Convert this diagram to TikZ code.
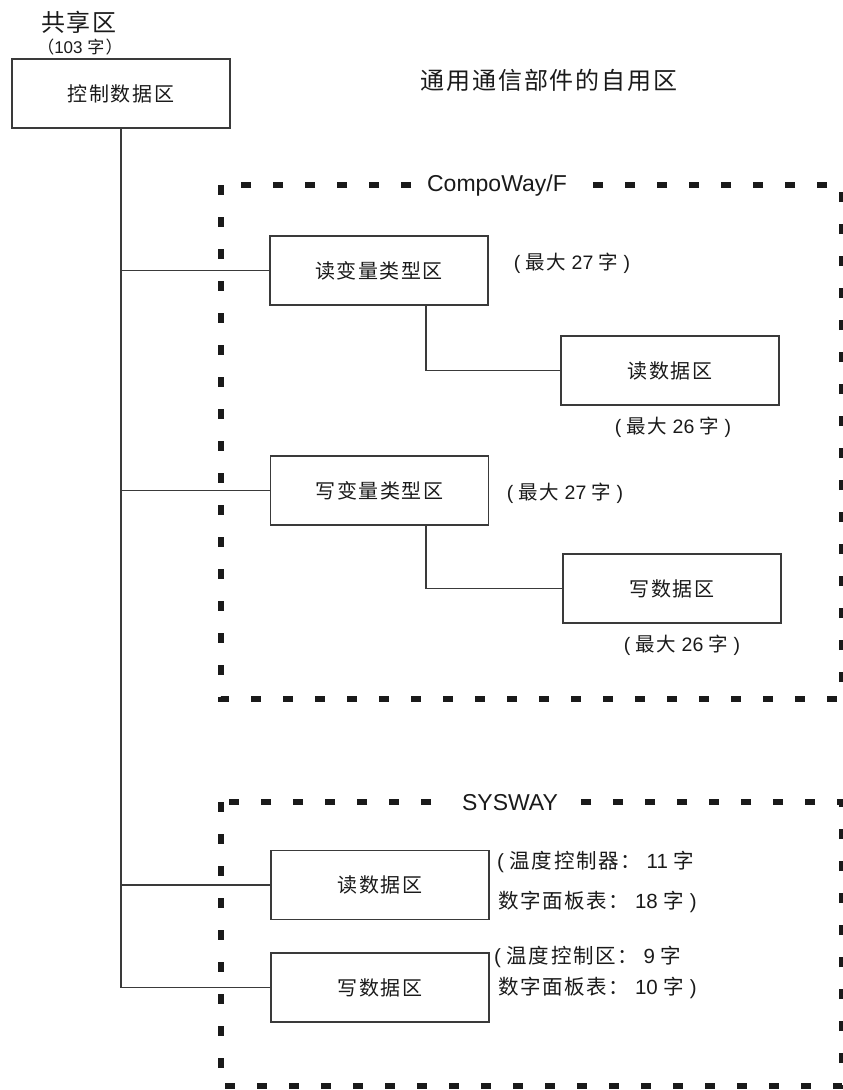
\documentclass[tikz,border=0pt]{standalone}
\usepackage{fontspec}
\setmainfont{Liberation Sans}
\newfontfamily\cjk{Noto Sans CJK SC}[LetterSpace=8]
\definecolor{boxgray}{HTML}{3A3A3A}
\definecolor{txt}{HTML}{1A1A1A}
\begin{document}
\begin{tikzpicture}[x=1pt,y=-1pt,
  box/.style={draw=boxgray,line width=1.3pt,minimum width=218pt,minimum height=69pt,inner sep=0pt,
    font=\cjk\fontsize{20}{24}\selectfont,text=txt},
  frame/.style={draw=txt,line width=5.5pt,dash pattern=on 10pt off 22pt},
  framelabel/.style={fill=white,inner xsep=7pt,inner ysep=3pt,font=\fontsize{23}{27}\selectfont,text=txt},
  conn/.style={draw=boxgray,line width=1.3pt},
  note/.style={font=\fontsize{19.5}{23}\selectfont,text=txt,inner sep=0pt},
  heading/.style={font=\cjk\fontsize{24}{28}\selectfont,text=txt,inner sep=0pt}]
\useasboundingbox (0,0) rectangle (843,1090);

% headings
\node[heading] (shared) at (79,22) {共享区};
\node[note,font=\fontsize{17}{20}\selectfont] (sharedcount) at (80,47) {{\cjk （}103 {\cjk 字）}};
\node[heading] (title) at (549,80) {通用通信部件的自用区};

% frames
\draw[frame] (221,185) rectangle (842,699);
\node[framelabel] (cwf) at (497,186) {CompoWay/F};
\draw[frame] (221,802) rectangle (842,1086);
\node[framelabel,inner xsep=10pt] (sysway) at (510,803) {SYSWAY};

% boxes
\node[box] (ctrl) at (121,93.5) {控制数据区};
\node[box] (rvt) at (379,270.5) {读变量类型区};
\node[box] (rd) at (670,370.5) {读数据区};
\node[box] (wvt) at (379.5,490.5) {写变量类型区};
\node[box] (wd) at (672,588.5) {写数据区};
\node[box] (srd) at (380,885) {读数据区};
\node[box] (swd) at (380,987.5) {写数据区};

% notes
\node[note] (nrvt) at (572,263) {( {\cjk 最大} 27 {\cjk 字} )};
\node[note] (nrd) at (673,427) {( {\cjk 最大} 26 {\cjk 字} )};
\node[note] (nwvt) at (565,493) {( {\cjk 最大} 27 {\cjk 字} )};
\node[note] (nwd) at (682,645) {( {\cjk 最大} 26 {\cjk 字} )};
\node[note,font=\fontsize{20.5}{24}\selectfont,anchor=west] (nsrd1) at (497,862) {( {\cjk 温度控制器：} 11 {\cjk 字}};
\node[note,font=\fontsize{20.5}{24}\selectfont,anchor=west] (nsrd2) at (498,902) {{\cjk 数字面板表：} 18 {\cjk 字} )};
\node[note,font=\fontsize{20.5}{24}\selectfont,anchor=west] (nswd1) at (494,957) {( {\cjk 温度控制区：} 9 {\cjk 字}};
\node[note,font=\fontsize{20.5}{24}\selectfont,anchor=west] (nswd2) at (498,988) {{\cjk 数字面板表：} 10 {\cjk 字} )};

% connectors
\draw[conn] (ctrl.south) -- (ctrl.south |- swd.west) -- (swd.west);
\draw[conn] (ctrl.south |- rvt.west) -- (rvt.west);
\draw[conn] (ctrl.south |- wvt.west) -- (wvt.west);
\draw[conn] (ctrl.south |- srd.west) -- (srd.west);
\draw[conn] ([xshift=47pt]rvt.south) |- (rd.west);
\draw[conn] ([xshift=46.5pt]wvt.south) |- (wd.west);
\end{tikzpicture}
\end{document}
